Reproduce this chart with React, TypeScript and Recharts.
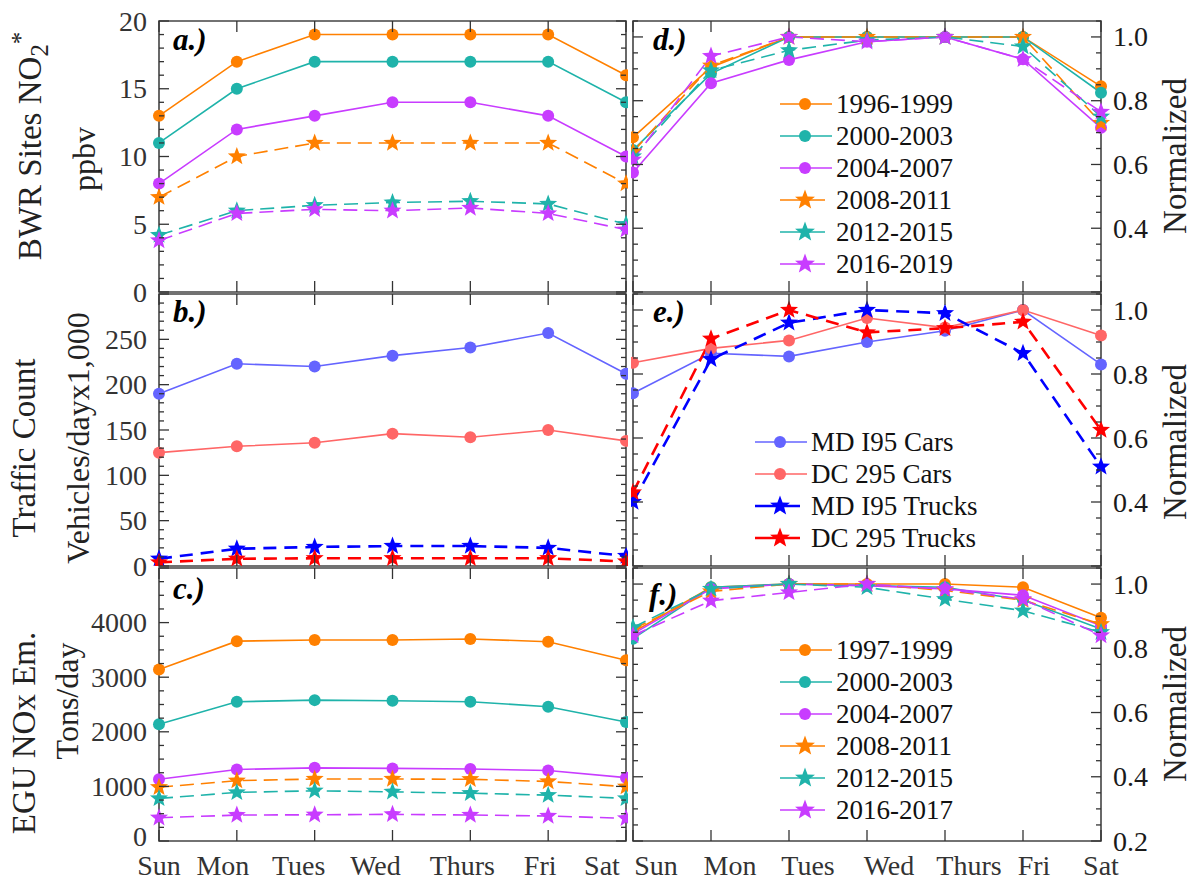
import { Legend, Line, LineChart, ReferenceArea, XAxis, YAxis } from 'recharts';

const FONT = "'Liberation Serif', 'Times New Roman', serif";

const DAYS = ['Sun', 'Mon', 'Tues', 'Wed', 'Thurs', 'Fri', 'Sat'];

// a.) BWR sites NO2*, ppbv
const no2_1996_1999 = [13, 17, 19, 19, 19, 19, 16];
const no2_2000_2003 = [11, 15, 17, 17, 17, 17, 14];
const no2_2004_2007 = [8, 12, 13, 14, 14, 13, 10];
const no2_2008_2011 = [7, 10, 11, 11, 11, 11, 8];
const no2_2012_2015 = [4.2, 6.0, 6.4, 6.6, 6.7, 6.5, 5.0];
const no2_2016_2019 = [3.8, 5.8, 6.1, 6.0, 6.2, 5.8, 4.6];

// d.) same sites, normalized
const no2Norm_1996_1999 = [0.685, 0.905, 1.0, 1.0, 1.0, 1.0, 0.845];
const no2Norm_2000_2003 = [0.645, 0.885, 1.0, 1.0, 1.0, 1.0, 0.825];
const no2Norm_2004_2007 = [0.575, 0.855, 0.928, 0.985, 1.0, 0.93, 0.715];
const no2Norm_2008_2011 = [0.64, 0.91, 1.0, 1.0, 1.0, 1.0, 0.73];
const no2Norm_2012_2015 = [0.625, 0.895, 0.958, 0.99, 1.0, 0.97, 0.75];
const no2Norm_2016_2019 = [0.615, 0.94, 1.0, 0.985, 1.0, 0.93, 0.765];

// b.) traffic count, vehicles/day x1,000
const mdI95Cars = [190, 223, 220, 232, 241, 257, 212];
const dc295Cars = [125, 132, 136, 146, 142, 150, 138];
const mdI95Trucks = [8, 19, 21, 22, 22, 20, 11];
const dc295Trucks = [4, 8, 8.5, 8.5, 8.5, 8.5, 5];

// e.) traffic, normalized
const mdI95CarsNorm = [0.74, 0.865, 0.855, 0.9, 0.935, 1.0, 0.83];
const dc295CarsNorm = [0.835, 0.88, 0.905, 0.975, 0.945, 1.0, 0.92];
const mdI95TrucksNorm = [0.4, 0.846, 0.96, 1.0, 0.99, 0.865, 0.51];
const dc295TrucksNorm = [0.43, 0.91, 1.0, 0.93, 0.943, 0.963, 0.625];

// c.) EGU NOx emissions, tons/day
const egu_1997_1999 = [3140, 3660, 3680, 3680, 3700, 3650, 3310];
const egu_2000_2003 = [2140, 2550, 2580, 2570, 2550, 2460, 2180];
const egu_2004_2007 = [1130, 1310, 1340, 1330, 1320, 1290, 1160];
const egu_2008_2011 = [985, 1105, 1135, 1135, 1130, 1090, 995];
const egu_2012_2015 = [780, 890, 920, 900, 875, 840, 780];
const egu_2016_2017 = [425, 475, 480, 488, 476, 458, 415];

// f.) EGU, normalized
const eguNorm_1997_1999 = [0.85, 0.99, 1.0, 1.0, 1.0, 0.99, 0.895];
const eguNorm_2000_2003 = [0.83, 0.99, 1.0, 0.995, 0.99, 0.95, 0.86];
const eguNorm_2004_2007 = [0.845, 0.985, 1.0, 0.995, 0.985, 0.965, 0.87];
const eguNorm_2008_2011 = [0.86, 0.977, 1.0, 1.0, 0.98, 0.95, 0.875];
const eguNorm_2012_2015 = [0.865, 0.985, 1.0, 0.99, 0.953, 0.917, 0.85];
const eguNorm_2016_2017 = [0.84, 0.948, 0.974, 1.0, 0.984, 0.953, 0.84];

// labelled ticks
const NO2_TICKS = [0, 5, 10, 15, 20];
const TRAFFIC_TICKS = [0, 50, 100, 150, 200, 250];
const EGU_TICKS = [0, 1000, 2000, 3000, 4000];
const NORM_TICKS_TOP = [0.4, 0.6, 0.8, 1.0];
const NORM_TICKS_BOTTOM = [0.2, 0.4, 0.6, 0.8, 1.0];

const ORANGE = '#ff8000';
const TEAL = '#1fb3aa';
const PURPLE = '#c83cff';
const CAR_BLUE = '#6464ff';
const CAR_RED = '#ff6666';
const TRUCK_BLUE = '#0000ff';
const TRUCK_RED = '#ff0000';
const INK = '#333';

// layout of the 3x2 grid (page px)
const LEFT_X = 159;
const LEFT_W = 467;
const RIGHT_X = 633;
const RIGHT_W = 468;
const ROWS = [
  { top: 21, h: 271 },
  { top: 294, h: 272 },
  { top: 568, h: 273 },
];
const PAD = 20;
// bottom day labels are not centred on their ticks in the original
const DAY_SHIFT_LEFT = [0, -14, -16, -17, -8, -8, -24];
const DAY_SHIFT_RIGHT = [23, 19, 19, 22, 24, 11, 0];

interface Series {
  name: string;
  values: number[];
  color: string;
  star?: boolean;
  width?: number;
}

const yearSeries = (names: string[], vals: number[][]): Series[] =>
  names.map((name, i) => ({
    name,
    values: vals[i],
    color: [ORANGE, TEAL, PURPLE][i % 3],
    star: i >= 3,
  }));

const NO2_NAMES = ['1996-1999', '2000-2003', '2004-2007', '2008-2011', '2012-2015', '2016-2019'];
const EGU_NAMES = ['1997-1999', '2000-2003', '2004-2007', '2008-2011', '2012-2015', '2016-2017'];

const NO2_SERIES = yearSeries(NO2_NAMES, [
  no2_1996_1999, no2_2000_2003, no2_2004_2007, no2_2008_2011, no2_2012_2015, no2_2016_2019,
]);
const NO2_NORM_SERIES = yearSeries(NO2_NAMES, [
  no2Norm_1996_1999, no2Norm_2000_2003, no2Norm_2004_2007, no2Norm_2008_2011, no2Norm_2012_2015, no2Norm_2016_2019,
]);
const EGU_SERIES = yearSeries(EGU_NAMES, [
  egu_1997_1999, egu_2000_2003, egu_2004_2007, egu_2008_2011, egu_2012_2015, egu_2016_2017,
]);
const EGU_NORM_SERIES = yearSeries(EGU_NAMES, [
  eguNorm_1997_1999, eguNorm_2000_2003, eguNorm_2004_2007, eguNorm_2008_2011, eguNorm_2012_2015, eguNorm_2016_2017,
]);
const TRAFFIC_SERIES: Series[] = [
  { name: 'MD I95 Cars', values: mdI95Cars, color: CAR_BLUE },
  { name: 'DC 295 Cars', values: dc295Cars, color: CAR_RED },
  { name: 'MD I95 Trucks', values: mdI95Trucks, color: TRUCK_BLUE, star: true, width: 2.6 },
  { name: 'DC 295 Trucks', values: dc295Trucks, color: TRUCK_RED, star: true, width: 2.6 },
];
const TRAFFIC_NORM_SERIES: Series[] = [
  { ...TRAFFIC_SERIES[0], values: mdI95CarsNorm },
  { ...TRAFFIC_SERIES[1], values: dc295CarsNorm },
  { ...TRAFFIC_SERIES[2], values: mdI95TrucksNorm },
  { ...TRAFFIC_SERIES[3], values: dc295TrucksNorm },
];

function starPoints(cx: number, cy: number, R: number, r: number) {
  const pts: string[] = [];
  for (let i = 0; i < 10; i++) {
    const rad = i % 2 === 0 ? R : r;
    const a = -Math.PI / 2 + (i * Math.PI) / 5;
    pts.push(`${cx + rad * Math.cos(a)},${cy + rad * Math.sin(a)}`);
  }
  return pts.join(' ');
}

function Marker({ cx, cy, s, big }: { cx: number; cy: number; s: Series; big?: boolean }) {
  if (s.star) return <polygon points={starPoints(cx, cy, big ? 10.5 : 9.5, big ? 4.4 : 4)} fill={s.color} />;
  return <circle cx={cx} cy={cy} r={6} fill={s.color} />;
}

const dashOf = (s: Series) => (s.star ? ((s.width ?? 1.6) > 2 ? '13 8' : '14 7') : undefined);

// legend samples are short solid strokes with the marker in the middle
function LegendBox({ series }: { series: Series[] }) {
  return (
    <div style={{ fontFamily: FONT, fontSize: 27, color: '#111' }}>
      {series.map((s) => (
        <div key={s.name} style={{ display: 'flex', alignItems: 'center', height: 32 }}>
          <svg width={52} height={32}>
            <line x1={0} x2={s.star ? 45 : 52} y1={16} y2={16} stroke={s.color} strokeWidth={s.width ?? 1.6} />
            <Marker cx={25} cy={16} s={s} big />
          </svg>
          <span style={{ marginLeft: 4, lineHeight: '32px', whiteSpace: 'nowrap' }}>{s.name}</span>
        </div>
      ))}
    </div>
  );
}

const near = (a: number, b: number) => Math.abs(a - b) < 1e-6;

interface PanelProps {
  side: 'left' | 'right';
  row: number;
  series: Series[];
  domain: [number, number];
  minorStep: number;
  majorStep: number;
  labels: number[];
  fmt?: (v: number) => string;
  showDays?: boolean;
  legend?: { x: number; y: number };
}

function Panel({ side, row, series, domain, minorStep, majorStep, labels, fmt, showDays, legend }: PanelProps) {
  const { top, h } = ROWS[row];
  const left = side === 'left';
  const plotX = left ? LEFT_X : RIGHT_X;
  const plotW = left ? LEFT_W : RIGHT_W;
  const yAxisW = left ? plotX : 1193 - plotX - plotW;
  const chartLeft = left ? 0 : plotX - 2;
  const chartTop = top - PAD;
  const width = left ? plotX + plotW + 2 : 2 + plotW + yAxisW;
  const height = PAD + h + 41;

  const data = DAYS.map((day, i) => {
    const r: Record<string, string | number> = { day };
    series.forEach((s, k) => (r['s' + k] = s.values[i]));
    return r;
  });

  const yTicks: number[] = [];
  const n = Math.round((domain[1] - domain[0]) / minorStep);
  for (let i = 0; i <= n; i++) yTicks.push(Math.round((domain[0] + i * minorStep) * 1e6) / 1e6);

  const dir = left ? 1 : -1;
  const renderYTick = (p: any) => {
    const { x, y, payload } = p;
    const v = payload.value as number;
    const major = near(v / majorStep, Math.round(v / majorStep));
    const len = major ? 10 : 5;
    const far = x + dir * plotW;
    const hasLabel = labels.some((l) => near(l, v));
    // the lowest label sits just above the day names, lift it a touch
    const lift = showDays && left && near(v, domain[0]) ? -5 : 0;
    return (
      <g>
        <line x1={x} x2={x + dir * len} y1={y} y2={y} stroke={INK} strokeWidth={1.3} />
        <line x1={far} x2={far - dir * len} y1={y} y2={y} stroke={INK} strokeWidth={1.3} />
        {hasLabel && (
          <text
            x={x - dir * 12}
            y={y + lift}
            dy="0.34em"
            textAnchor={left ? 'end' : 'start'}
            fontFamily={FONT}
            fontSize={28}
            fill={left ? INK : '#1a1a1a'}
          >
            {fmt ? fmt(v) : String(v)}
          </text>
        )}
      </g>
    );
  };

  const shifts = left ? DAY_SHIFT_LEFT : DAY_SHIFT_RIGHT;
  const renderXTick = (p: any) => {
    const { x, y, index, payload } = p;
    return (
      <g>
        <line x1={x} x2={x} y1={y} y2={y - 11} stroke={INK} strokeWidth={1.3} />
        <line x1={x} x2={x} y1={y - h} y2={y - h + 11} stroke={INK} strokeWidth={1.3} />
        {showDays && (
          <text
            x={x + shifts[index]}
            y={y + 34}
            textAnchor="middle"
            fontFamily={FONT}
            fontSize={28}
            fill={INK}
          >
            {payload.value}
          </text>
        )}
      </g>
    );
  };

  return (
    <div style={{ position: 'absolute', left: chartLeft, top: chartTop }}>
      <LineChart
        width={width}
        height={height}
        data={data}
        margin={left ? { top: PAD, right: 2, bottom: 0, left: 0 } : { top: PAD, right: 0, bottom: 0, left: 2 }}
      >
        <XAxis
          dataKey="day"
          interval={0}
          height={41}
          tickLine={false}
          axisLine={false}
          tickSize={0}
          tickMargin={0}
          tick={renderXTick}
        />
        <YAxis
          orientation={side}
          width={yAxisW}
          type="number"
          domain={domain}
          ticks={yTicks}
          interval={0}
          allowDataOverflow
          tickLine={false}
          axisLine={false}
          tickSize={0}
          tickMargin={0}
          tick={renderYTick}
        />
        <ReferenceArea y1={domain[0]} y2={domain[1]} fill="none" stroke="#444" strokeWidth={1.6} ifOverflow="visible" />
        {series.map((s, k) => (
          <Line
            key={s.name}
            type="linear"
            dataKey={'s' + k}
            name={s.name}
            stroke={s.color}
            strokeWidth={s.width ?? 1.6}
            strokeDasharray={dashOf(s)}
            dot={(dp: any) => <Marker key={`${k}-${dp.index}`} cx={dp.cx} cy={dp.cy} s={s} />}
            activeDot={false}
            isAnimationActive={false}
          />
        ))}
        {legend && (
          <Legend
            layout="vertical"
            align="center"
            verticalAlign="middle"
            wrapperStyle={{ left: legend.x - chartLeft, top: legend.y - 16 - chartTop, width: 280 }}
            content={() => <LegendBox series={series} />}
          />
        )}
      </LineChart>
    </div>
  );
}

function VTitle({ x, y, size = 33, children }: { x: number; y: number; size?: number; children: any }) {
  return (
    <div
      style={{
        position: 'absolute',
        left: x,
        top: y,
        transform: 'translate(-50%, -50%) rotate(-90deg)',
        fontSize: size,
        lineHeight: 1,
        whiteSpace: 'nowrap',
        color: '#222',
      }}
    >
      {children}
    </div>
  );
}

function Tag({ x, y, text }: { x: number; y: number; text: string }) {
  return (
    <div
      style={{
        position: 'absolute',
        left: x,
        top: y,
        fontSize: 31,
        lineHeight: 1,
        fontWeight: 'bold',
        fontStyle: 'italic',
        color: '#000',
      }}
    >
      {text}
    </div>
  );
}

const fmtNorm = (v: number) => v.toFixed(1);

export default function App() {
  return (
    <div
      style={{
        position: 'absolute',
        left: 0,
        top: 0,
        width: 1193,
        height: 882,
        background: '#fff',
        fontFamily: FONT,
        overflow: 'hidden',
      }}
    >
      <Panel side="left" row={0} series={NO2_SERIES} domain={[0, 20]} minorStep={1} majorStep={5} labels={NO2_TICKS} />
      <Panel
        side="left"
        row={1}
        series={TRAFFIC_SERIES}
        domain={[0, 300]}
        minorStep={10}
        majorStep={50}
        labels={TRAFFIC_TICKS}
      />
      <Panel
        side="left"
        row={2}
        series={EGU_SERIES}
        domain={[0, 5000]}
        minorStep={250}
        majorStep={1000}
        labels={EGU_TICKS}
        showDays
      />
      <Panel
        side="right"
        row={0}
        series={NO2_NORM_SERIES}
        domain={[0.2, 1.05]}
        minorStep={0.05}
        majorStep={0.2}
        labels={NORM_TICKS_TOP}
        fmt={fmtNorm}
        legend={{ x: 780, y: 104 }}
      />
      <Panel
        side="right"
        row={1}
        series={TRAFFIC_NORM_SERIES}
        domain={[0.2, 1.05]}
        minorStep={0.05}
        majorStep={0.2}
        labels={NORM_TICKS_TOP}
        fmt={fmtNorm}
        legend={{ x: 755, y: 442 }}
      />
      <Panel
        side="right"
        row={2}
        series={EGU_NORM_SERIES}
        domain={[0.2, 1.05]}
        minorStep={0.05}
        majorStep={0.2}
        labels={NORM_TICKS_BOTTOM}
        fmt={fmtNorm}
        showDays
        legend={{ x: 780, y: 650 }}
      />

      <VTitle x={31} y={146}>
        BWR Sites NO<sub style={{ fontSize: '0.75em' }}>2</sub>
        <sup style={{ fontSize: '0.75em' }}>*</sup>
      </VTitle>
      <VTitle x={84} y={159} size={32}>
        ppbv
      </VTitle>
      <VTitle x={24} y={448}>
        Traffic Count
      </VTitle>
      <VTitle x={78} y={438} size={32}>
        Vehicles/dayx1,000
      </VTitle>
      <VTitle x={24} y={733}>
        EGU NOx Em.
      </VTitle>
      <VTitle x={67} y={701} size={32}>
        Tons/day
      </VTitle>
      <VTitle x={1175} y={156}>
        Normalized
      </VTitle>
      <VTitle x={1175} y={442}>
        Normalized
      </VTitle>
      <VTitle x={1175} y={704}>
        Normalized
      </VTitle>

      <Tag x={173} y={24} text="a.)" />
      <Tag x={173} y={296} text="b.)" />
      <Tag x={173} y={573} text="c.)" />
      <Tag x={653} y={24} text="d.)" />
      <Tag x={653} y={296} text="e.)" />
      <Tag x={649} y={579} text="f.)" />
    </div>
  );
}
